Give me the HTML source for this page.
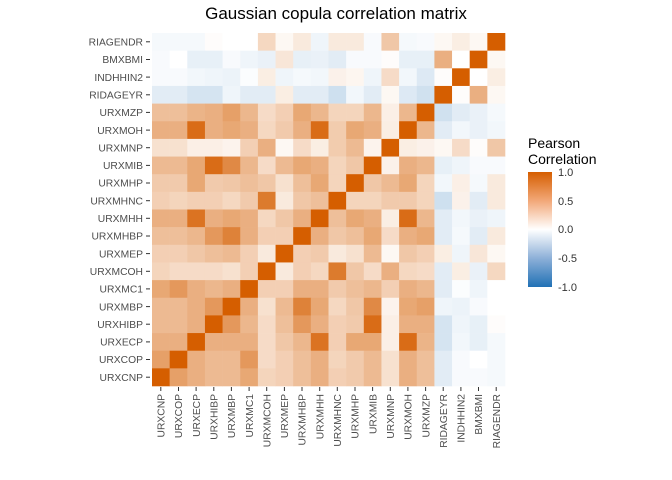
<!DOCTYPE html>
<html><head><meta charset="utf-8"><style>
html,body{margin:0;padding:0;background:#fff;}
svg{display:block;font-family:"Liberation Sans",sans-serif;}
</style></head><body>
<svg id="s" width="672" height="480" viewBox="0 0 672 480" xmlns="http://www.w3.org/2000/svg">
<defs><linearGradient id="g" x1="0" y1="1" x2="0" y2="0">
<stop offset="0" stop-color="#2171b5"/><stop offset="0.25" stop-color="#8db0d8"/><stop offset="0.5" stop-color="#ffffff"/><stop offset="0.75" stop-color="#f2a878"/><stop offset="1" stop-color="#d55e00"/></linearGradient></defs>
<text x="336" y="19" font-size="17" text-anchor="middle" fill="#000">Gaussian copula correlation matrix</text>
<g id="cells"></g>
<g id="labs" font-size="10.3" fill="#4d4d4d"></g>
<text x="528" y="148" font-size="14" fill="#000">Pearson</text>
<text x="528" y="164" font-size="14" fill="#000">Correlation</text>
<rect x="528" y="172" width="24" height="115" fill="url(#g)"/>
<g font-size="11" fill="#333">
<text x="558" y="176">1.0</text><text x="558" y="205">0.5</text><text x="558" y="233">0.0</text><text x="558" y="262">-0.5</text><text x="558" y="291">-1.0</text>
</g>
</svg>
<script>
var names=["URXCNP","URXCOP","URXECP","URXHIBP","URXMBP","URXMC1","URXMCOH","URXMEP","URXMHBP","URXMHH","URXMHNC","URXMHP","URXMIB","URXMNP","URXMOH","URXMZP","RIDAGEYR","INDHHIN2","BMXBMI","RIAGENDR"];
var R={
19:[-0.03,-0.03,-0.03,0.01,0,0,0.2,0.03,0.1,-0.05,0.1,0.1,-0.02,0.3,-0.03,-0.02,0.03,0.08,0.03,1],
18:[-0.02,0,-0.08,-0.08,-0.02,-0.05,-0.07,0.12,-0.08,-0.07,-0.1,-0.02,-0.02,0.01,-0.08,-0.08,0.45,0,1,0.03],
17:[-0.02,-0.02,-0.04,-0.05,-0.06,-0.01,0.08,-0.05,-0.03,-0.04,0.06,0.04,-0.05,0.18,-0.04,-0.12,0.01,1,0,0.08],
16:[-0.1,-0.1,-0.15,-0.15,-0.05,-0.1,-0.1,0.08,-0.1,-0.1,-0.18,-0.04,-0.1,0.03,-0.12,-0.17,1,0.01,0.45,0.03],
15:[0.35,0.35,0.42,0.45,0.55,0.4,0.18,0.25,0.5,0.4,0.22,0.22,0.4,0.07,0.4,1,-0.17,-0.1,-0.07,-0.03],
14:[0.45,0.45,0.9,0.45,0.5,0.45,0.2,0.28,0.45,0.9,0.27,0.5,0.45,0.08,1,0.4,-0.1,-0.04,-0.07,-0.04],
13:[0.15,0.15,0.07,0.07,0.05,0.25,0.45,0.03,0.18,0.08,0.27,0.38,0.05,1,0.08,0.06,0.03,0.18,0.01,0.3],
12:[0.38,0.38,0.5,0.9,0.7,0.4,0.18,0.38,0.5,0.45,0.22,0.3,1,0.06,0.45,0.4,-0.08,-0.05,-0.02,-0.02],
11:[0.28,0.28,0.5,0.28,0.3,0.35,0.3,0.15,0.35,0.5,0.22,1,0.3,0.38,0.5,0.22,-0.04,0.07,-0.03,0.1],
10:[0.25,0.22,0.25,0.25,0.2,0.28,0.8,0.1,0.3,0.35,1,0.22,0.22,0.28,0.28,0.22,-0.18,0.06,-0.1,0.1],
9:[0.45,0.45,0.85,0.45,0.5,0.45,0.2,0.3,0.45,1,0.35,0.5,0.45,0.08,0.9,0.4,-0.1,-0.04,-0.07,-0.05],
8:[0.35,0.35,0.4,0.6,0.75,0.45,0.25,0.25,1,0.45,0.3,0.35,0.5,0.18,0.45,0.5,-0.1,-0.03,-0.1,0.1],
7:[0.25,0.25,0.3,0.35,0.38,0.25,0.1,1,0.25,0.28,0.1,0.15,0.38,0.03,0.3,0.25,0.08,-0.05,0.12,0.03],
6:[0.22,0.18,0.18,0.18,0.15,0.25,1,0.1,0.25,0.2,0.8,0.3,0.18,0.45,0.2,0.18,-0.1,0.08,-0.07,0.2],
5:[0.5,0.6,0.45,0.4,0.45,1,0.25,0.25,0.45,0.45,0.28,0.35,0.4,0.25,0.45,0.4,-0.1,-0.01,-0.05,0],
4:[0.38,0.38,0.45,0.6,1,0.45,0.15,0.38,0.75,0.5,0.2,0.3,0.7,0.05,0.5,0.55,-0.05,-0.06,-0.02,0],
3:[0.38,0.38,0.45,1,0.6,0.4,0.18,0.35,0.6,0.45,0.25,0.28,0.9,0.07,0.45,0.45,-0.15,-0.05,-0.08,0.01]
};
var M=[];for(var i=0;i<20;i++){M[i]=[];for(var j=0;j<20;j++){M[i][j]=R[i]?R[i][j]:(R[j]?R[j][i]:null);}}
M[0][0]=M[1][1]=M[2][2]=1;M[0][1]=M[1][0]=0.55;M[0][2]=M[2][0]=0.45;M[1][2]=M[2][1]=0.45;
function col(v){var a,t=Math.pow(Math.abs(v),0.88);if(v>=0){a=[213,94,0];}else{a=[33,113,181];}
var c=[0,1,2].map(function(k){return Math.round(255+(a[k]-255)*t);});return "rgb("+c.join(",")+")";}
var x0=152,y0=33,cw=17.65,h="",L="";
for(var r=0;r<20;r++){var vi=19-r;for(var c=0;c<20;c++){h+='<rect x="'+(x0+c*cw).toFixed(2)+'" y="'+(y0+r*cw).toFixed(2)+'" width="'+(cw+0.3).toFixed(2)+'" height="'+(cw+0.3).toFixed(2)+'" fill="'+col(M[vi][c])+'"/>';}
var yc=y0+r*cw+cw/2;L+='<text x="143" y="'+(yc+3.7).toFixed(1)+'" text-anchor="end">'+names[vi]+'</text><line x1="146" x2="150" y1="'+yc.toFixed(1)+'" y2="'+yc.toFixed(1)+'" stroke="#333"/>';}
for(var c=0;c<20;c++){var xc=x0+c*cw+cw/2;L+='<line x1="'+xc.toFixed(1)+'" x2="'+xc.toFixed(1)+'" y1="387" y2="391" stroke="#333"/><text transform="translate('+(xc+3.7).toFixed(1)+',394) rotate(-90)" text-anchor="end">'+names[c]+'</text>';}
document.getElementById("cells").innerHTML=h;document.getElementById("labs").innerHTML=L;
</script>
</body></html>
